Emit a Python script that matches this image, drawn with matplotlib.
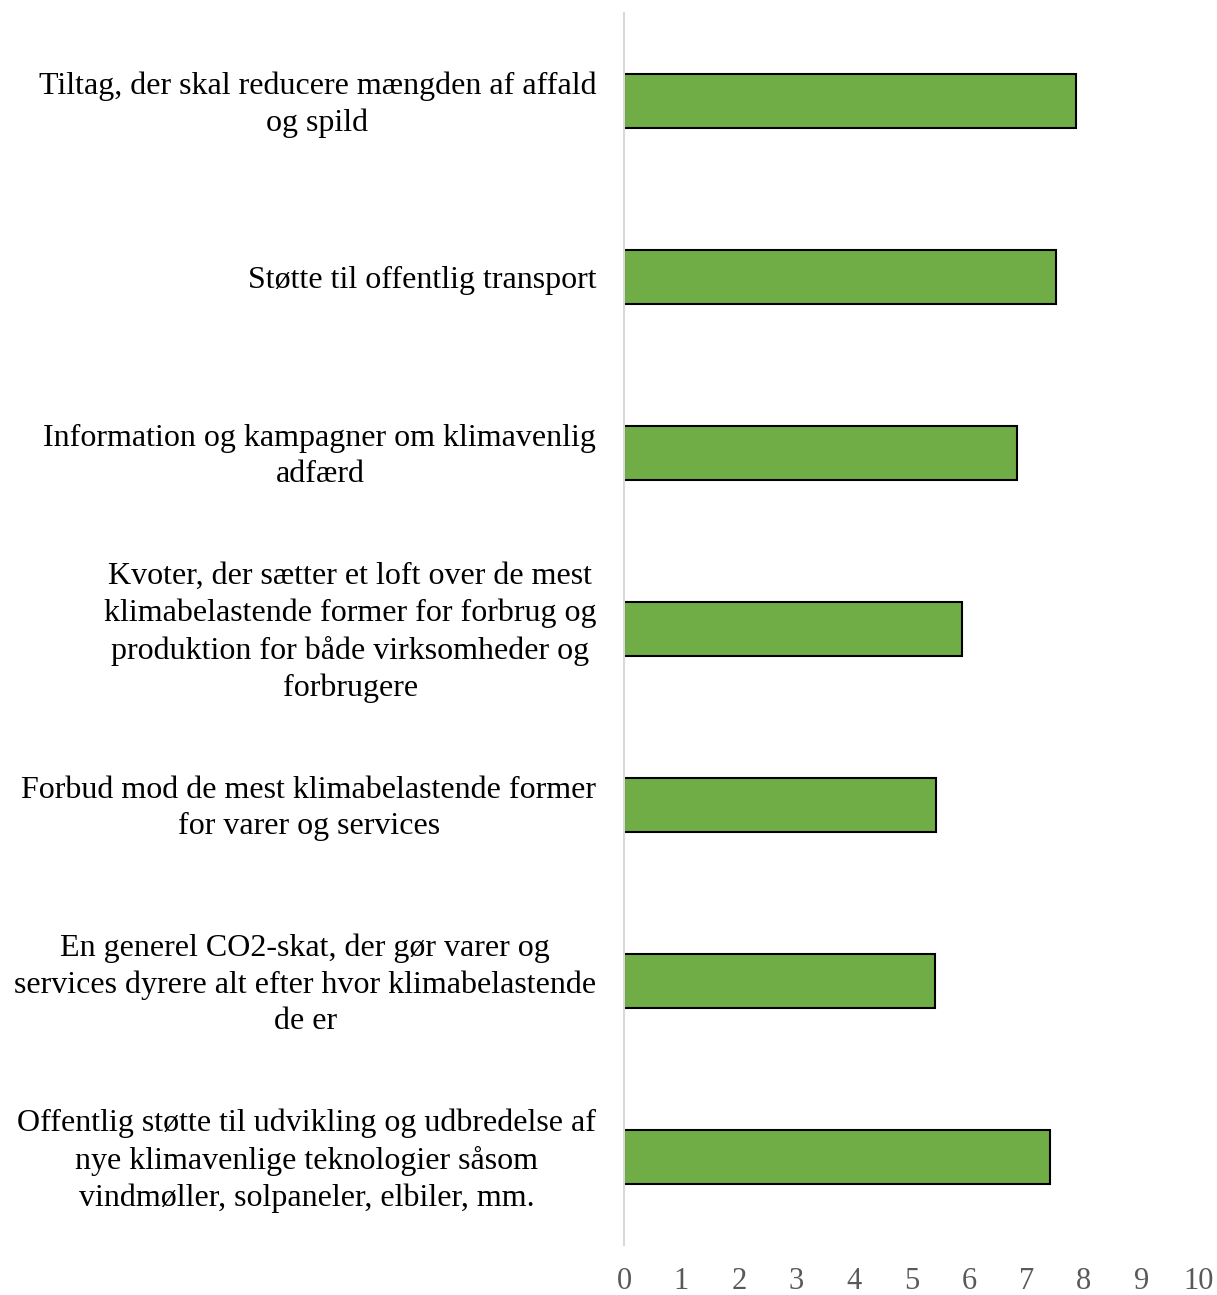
import matplotlib.pyplot as plt

plt.rcParams['font.family'] = ['Liberation Serif', 'DejaVu Serif']

# categories top -> bottom
labels = [
    'Tiltag, der skal reducere mængden af affald\nog spild',
    'Støtte til offentlig transport',
    'Information og kampagner om klimavenlig\nadfærd',
    'Kvoter, der sætter et loft over de mest\nklimabelastende former for forbrug og\nproduktion for både virksomheder og\nforbrugere',
    'Forbud mod de mest klimabelastende former\nfor varer og services',
    'En generel CO2-skat, der gør varer og\nservices dyrere alt efter hvor klimabelastende\nde er',
    'Offentlig støtte til udvikling og udbredelse af\nnye klimavenlige teknologier såsom\nvindmøller, solpaneler, elbiler, mm.',
]
values = [7.86, 7.51, 6.83, 5.88, 5.43, 5.41, 7.41]
xticks = list(range(0, 11))

fig = plt.figure(figsize=(12.17, 12.95), dpi=100)
ax = fig.add_axes([0.5127, 0.0386, 0.4725, 0.9514])

ypos = list(range(len(labels)))
ax.barh(ypos, values, height=0.31, color='#70AD47', edgecolor='black', linewidth=1.5)

ax.set_xlim(0, 10)
ax.set_ylim(len(labels) - 0.5, -0.5)
ax.set_xticks(xticks)
ax.tick_params(axis='x', length=0, pad=16, labelsize=22, labelcolor='#595959')
ax.tick_params(axis='y', length=0)
ax.set_yticks([])

for s in ['top', 'right', 'bottom']:
    ax.spines[s].set_visible(False)
ax.spines['left'].set_color('#D9D9D9')
ax.spines['left'].set_linewidth(1.5)

# category labels: block right-aligned, lines centred
for i, lab in enumerate(labels):
    ax.text(-0.48, i + 0.02, lab, ha='right', va='center', multialignment='center',
            fontsize=23, color='black', linespacing=1.33)

fig.savefig('out.png', dpi=100)
